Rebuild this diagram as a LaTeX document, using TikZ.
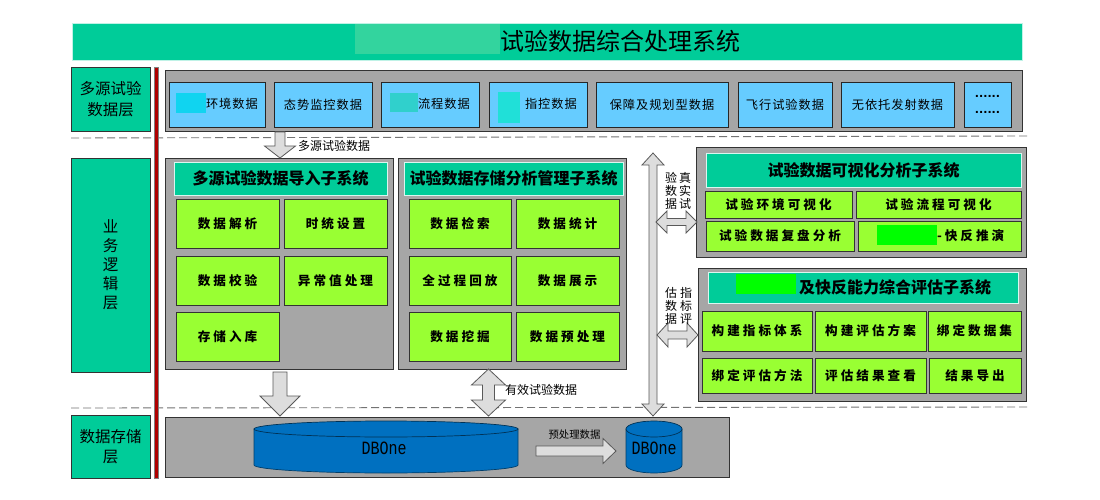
\documentclass[tikz,border=0pt]{standalone}
\usepackage{fontspec}
\setmainfont{Noto Sans CJK SC}
\newfontfamily\monof{Liberation Mono}
\newfontfamily\dotf{DejaVu Sans}
\newfontfamily\spacedf[LetterSpace=24]{Noto Sans CJK SC}
\newfontfamily\thinsp[LetterSpace=8]{Noto Sans CJK SC}
\usetikzlibrary{calc}
\definecolor{teal1}{HTML}{00CC99}
\definecolor{lime1}{HTML}{99FF33}
\definecolor{blue1}{HTML}{66CCFF}
\definecolor{grey1}{HTML}{A6A6A6}
\definecolor{arrowf}{HTML}{DDDDDD}
\definecolor{dbblue}{HTML}{0070C0}
\definecolor{redbar}{HTML}{B00000}
\definecolor{patchtitle}{HTML}{33D49E}
\definecolor{patchcyan}{HTML}{10D4F0}
\definecolor{patchteal}{HTML}{30D0CC}
\definecolor{patchturq}{HTML}{20E0D8}
\definecolor{patchgreen}{HTML}{00FF00}
\tikzset{
  base/.style={inner sep=0pt,outer sep=0pt,align=center,text=black},
  layerbox/.style={base,draw=black!80,line width=.8pt,fill=teal1,font=\fontsize{15.5}{22}\selectfont},
  panel/.style={base,draw=black!80,line width=1pt,fill=grey1},
  header/.style={base,draw=white!85!teal1,line width=1pt,fill=teal1,font=\bfseries\fontsize{16}{18}\selectfont},
  srcbox/.style={base,draw=black!85,line width=.9pt,fill=blue1,font=\thinsp\fontsize{12.2}{14}\selectfont},
  funcbox/.style={base,draw=black!80,line width=.9pt,fill=lime1,font=\spacedf\bfseries\fontsize{12.6}{14}\selectfont},
  blockarrow/.style={draw=black!65,line width=.8pt,fill=arrowf,line join=miter},
  sep/.style={draw=black!55,line width=.9pt,dash pattern=on 8pt off 4pt},
  lbl/.style={base,font=\fontsize{12}{14}\selectfont},
  vlbl/.style={base,font=\fontsize{12}{13}\selectfont},
  dbtext/.style={base,font=\monof\fontsize{15}{18}\selectfont},
}
% box by pixel corners: name, style, x0,y0,x1,y1, text
\newcommand{\pbox}[7]{\node[#2,minimum width=#5pt-#3pt,minimum height=#6pt-#4pt,anchor=north west] (#1) at (#3,#4) {#7};}
% block arrows: #1 tail, #2 tip
\newcommand{\downarrowblock}[5]{\draw[blockarrow] ([xshift=-#3pt]#1) -- ([xshift=-#3pt,yshift=#5pt]#2) -- ([xshift=-#4pt,yshift=#5pt]#2) -- (#2) -- ([xshift=#4pt,yshift=#5pt]#2) -- ([xshift=#3pt,yshift=#5pt]#2) -- ([xshift=#3pt]#1) -- cycle;}
\newcommand{\vdoubleblock}[5]{\draw[blockarrow] (#1) -- ([xshift=#4pt,yshift=-#5pt]#1) -- ([xshift=#3pt,yshift=-#5pt]#1) -- ([xshift=#3pt,yshift=#5pt]#2) -- ([xshift=#4pt,yshift=#5pt]#2) -- (#2) -- ([xshift=-#4pt,yshift=#5pt]#2) -- ([xshift=-#3pt,yshift=#5pt]#2) -- ([xshift=-#3pt,yshift=-#5pt]#1) -- ([xshift=-#4pt,yshift=-#5pt]#1) -- cycle;}
\newcommand{\hdoubleblock}[5]{\draw[blockarrow] (#1) -- ([xshift=#5pt,yshift=#4pt]#1) -- ([xshift=#5pt,yshift=#3pt]#1) -- ([xshift=-#5pt,yshift=#3pt]#2) -- ([xshift=-#5pt,yshift=#4pt]#2) -- (#2) -- ([xshift=-#5pt,yshift=-#4pt]#2) -- ([xshift=-#5pt,yshift=-#3pt]#2) -- ([xshift=#5pt,yshift=-#3pt]#1) -- ([xshift=#5pt,yshift=-#4pt]#1) -- cycle;}
\newcommand{\hsingleblock}[5]{\draw[blockarrow] ([yshift=#3pt]#1) -- ([xshift=-#5pt,yshift=#3pt]#2) -- ([xshift=-#5pt,yshift=#4pt]#2) -- (#2) -- ([xshift=-#5pt,yshift=-#4pt]#2) -- ([xshift=-#5pt,yshift=-#3pt]#2) -- ([yshift=-#3pt]#1) -- cycle;}
% cylinder: name, x0,y0,x1,y1, ry, text x offset
\newcommand{\dbcyl}[7]{%
  \path[draw=black!45!dbblue,line width=.7pt,fill=dbblue] (#2,{#3+#6}) -- (#2,{#5-#6}) arc[start angle=180,end angle=0,x radius={(#4-#2)/2},y radius=#6] -- (#4,{#3+#6}) -- cycle;
  \path[draw=black!55!dbblue,line width=.7pt,fill=dbblue] ({(#2+#4)/2},{#3+#6}) ellipse[x radius={(#4-#2)/2},y radius=#6];
  \node[dbtext] (#1) at ({(#2+#4)/2+#7},{(#3+#5)/2+1}) {\scalebox{1}[1.25]{DBOne}};
  \coordinate (#1w) at (#2,{(#3+#5)/2+4});
  \coordinate (#1e) at (#4,{(#3+#5)/2+4});
}
\begin{document}
\begin{tikzpicture}[x=1pt,y=-1pt]
\useasboundingbox (0,0) rectangle (1100,500);
\fill[white] (0,0) rectangle (1100,500);

% title
\pbox{title}{base,fill=teal1,draw=white!75!teal1,line width=.8pt}{72}{23}{1022}{60}{}
\fill[patchtitle] (355,24) rectangle (500,54);
\node[base,anchor=west,font=\fontsize{24}{26}\selectfont] (titletext) at (500.5,41) {试验数据综合处理系统};

% layers
\pbox{l1}{layerbox}{71}{67}{150}{131}{多源试验\\[-.5pt]数据层}
\pbox{l2}{layerbox,font=\fontsize{15.5}{19}\selectfont}{71}{158}{150}{372}{业\\务\\逻\\辑\\层}
\pbox{l3}{layerbox}{71}{415}{150}{478}{数据存储\\[-1.5pt]层}

% separators
\coordinate (s1a) at (71,138); \coordinate (s1b) at (1028,136);
\coordinate (s2a) at (71,408); \coordinate (s2b) at (1028,407);
\draw[sep] (s1a) -- (s1b);
\draw[sep] (s2a) -- (s2b);

% red bar
\pbox{bar}{base,fill=redbar,draw=black!50,line width=.6pt}{154}{67}{158}{478}{}

% sources
\pbox{psrc}{panel}{165}{71}{1022}{132}{}
\pbox{s1}{srcbox}{169}{82}{265}{127}{}
\pbox{s2}{srcbox}{274}{82}{372}{127}{态势监控数据}
\pbox{s3}{srcbox}{381}{82}{479}{127}{}
\pbox{s4}{srcbox}{489}{82}{587}{127}{}
\pbox{s5}{srcbox}{596}{82}{728}{127}{保障及规划型数据}
\pbox{s6}{srcbox}{738}{82}{832}{127}{飞行试验数据}
\pbox{s7}{srcbox}{841}{82}{954}{127}{无依托发射数据}
\pbox{s8}{srcbox,font=\dotf\bfseries\fontsize{11}{16}\selectfont}{964}{82}{1011}{127}{......\\......}
\fill[patchcyan] (176,93) rectangle (206,113);
\node[srcbox,draw=none,fill=none,anchor=west] (t1) at (206,104) {环境数据};
\fill[patchteal] (390,93) rectangle (418,112);
\node[srcbox,draw=none,fill=none,anchor=west] (t3) at (418,104) {流程数据};
\fill[patchturq] (498,92) rectangle (520,123);
\node[srcbox,draw=none,fill=none,anchor=west] (t4) at (525,104) {指控数据};

% panel 1
\pbox{p1}{panel}{165}{158}{393}{369}{}
\pbox{h1}{header}{174}{162}{387}{195}{多源试验数据导入子系统}
\pbox{a1}{funcbox}{176}{199}{279}{248}{数据解析}
\pbox{a2}{funcbox}{284}{199}{387}{248}{时统设置}
\pbox{a3}{funcbox}{176}{256}{279}{305}{数据校验}
\pbox{a4}{funcbox}{284}{256}{387}{305}{异常值处理}
\pbox{a5}{funcbox}{176}{312}{279}{361}{存储入库}

% panel 2
\pbox{p2}{panel}{398}{158}{626}{369}{}
\pbox{h2}{header}{404}{162}{623}{195}{试验数据存储分析管理子系统}
\pbox{b1}{funcbox}{409}{199}{511}{248}{数据检索}
\pbox{b2}{funcbox}{516}{199}{619}{248}{数据统计}
\pbox{b3}{funcbox}{409}{256}{511}{305}{全过程回放}
\pbox{b4}{funcbox}{516}{256}{619}{305}{数据展示}
\pbox{b5}{funcbox}{409}{312}{511}{361}{数据挖掘}
\pbox{b6}{funcbox}{516}{312}{619}{361}{数据预处理}

% panel 3
\pbox{p3}{panel}{696}{148}{1026}{257}{}
\pbox{h3}{header}{706}{153}{1021}{187}{试验数据可视化分析子系统}
\pbox{c1}{funcbox}{705}{191}{852}{218}{试验环境可视化}
\pbox{c2}{funcbox}{856}{191}{1021}{218}{试验流程可视化}
\pbox{c3}{funcbox}{706}{221}{854}{251}{试验数据复盘分析}
\pbox{c4}{funcbox}{858}{221}{1021}{251}{}
\fill[patchgreen] (877,225) rectangle (937,245);
\node[funcbox,draw=none,fill=none,anchor=west] (t5) at (937,236) {-快反推演};

% panel 4
\pbox{p4}{panel}{698}{268}{1026}{401}{}
\pbox{h4}{header}{708}{272}{1018}{303}{}
\fill[patchgreen] (736,274) rectangle (796,294);
\node[base,anchor=west,font=\bfseries\fontsize{16}{18}\selectfont] (t6) at (799,287) {及快反能力综合评估子系统};
\pbox{d1}{funcbox}{702}{311}{812}{351}{构建指标体系}
\pbox{d2}{funcbox}{815}{311}{926}{351}{构建评估方案}
\pbox{d3}{funcbox}{928}{311}{1021}{351}{绑定数据集}
\pbox{d4}{funcbox}{702}{358}{812}{393}{绑定评估方法}
\pbox{d5}{funcbox}{815}{358}{926}{393}{评估结果查看}
\pbox{d6}{funcbox}{929}{358}{1021}{393}{结果导出}

% storage
\pbox{p5}{panel}{165}{417}{729}{477}{}
\dbcyl{db1}{254}{421}{518}{473}{8}{-2}
\dbcyl{db2}{626}{421}{682}{473}{8}{0}

% connectors
\coordinate (ar1a) at (280,132); \coordinate (ar1b) at (280,158);
\downarrowblock{ar1a}{ar1b}{5}{15.5}{12}
\node[lbl,anchor=west] (ar1l) at (298,146) {多源试验数据};

\coordinate (ar2a) at (280,372); \coordinate (ar2b) at (280,416);
\downarrowblock{ar2a}{ar2b}{7}{20}{20}

\coordinate (ar3a) at (488.5,369); \coordinate (ar3b) at (488.5,416);
\vdoubleblock{ar3a}{ar3b}{6}{17}{16}
\node[lbl,anchor=west] (ar3l) at (505,390) {有效试验数据};

\coordinate (ar4a) at (653,153); \coordinate (ar4b) at (653,416);
\vdoubleblock{ar4a}{ar4b}{4}{11}{12}

\coordinate (ar5a) at (656,222); \coordinate (ar5b) at (697,222);
\hdoubleblock{ar5a}{ar5b}{3.5}{11}{11}
\coordinate (ar6a) at (657,335); \coordinate (ar6b) at (698,335);
\hdoubleblock{ar6a}{ar6b}{4}{12}{11}

\node[vlbl] (v1) at (671,191) {验\\数\\据};
\node[vlbl] (v2) at (685,191) {真\\实\\试};
\node[vlbl] (v3) at (671,306) {估\\数\\据};
\node[vlbl] (v4) at (686,306) {指\\标\\评};

\coordinate (ar7a) at ([xshift=18pt]db1e);
\coordinate (ar7b) at ([xshift=-10pt]db2w);
\hsingleblock{ar7a}{ar7b}{5}{12.5}{13}
\node[base,anchor=center,font=\fontsize{10.4}{12}\selectfont] (ar7l) at (574.5,435) {预处理数据};
\end{tikzpicture}
\end{document}
